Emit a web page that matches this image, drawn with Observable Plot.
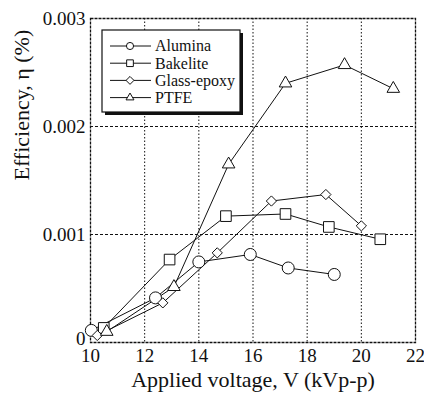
<!DOCTYPE html>
<html>
<head>
<meta charset="utf-8">
<script src="https://cdn.jsdelivr.net/npm/d3@7"></script>
<script src="https://cdn.jsdelivr.net/npm/@observablehq/plot@0.6"></script>
<style>
  html, body { margin: 0; padding: 0; background: #fff; }
  #chart { width: 424px; height: 401px; }
</style>
</head>
<body>
<div id="chart"></div>
<script>
// ---- data ----
const seriesNames = ["Alumina", "Bakelite", "Glass-epoxy", "PTFE"];
const seriesSymbols = ["circle", "square", "diamond2", "triangle2"];

const aluminaV   = [10.03, 12.4, 14.0, 15.9, 17.3, 19.0];
const aluminaEff = [0.000112, 0.000413, 0.000746, 0.000815, 0.00069, 0.00063];

const bakeliteV   = [10.49, 12.92, 15.0, 17.2, 18.8, 20.7];
const bakeliteEff = [0.000135, 0.000768, 0.00117, 0.00119, 0.00107, 0.000956];

const glassV   = [10.25, 12.67, 14.68, 16.68, 18.69, 20.0];
const glassEff = [0.000065, 0.000367, 0.00083, 0.00131, 0.00137, 0.00108];

const ptfeV   = [10.6, 13.08, 15.1, 17.2, 19.38, 21.18];
const ptfeEff = [0.0001, 0.000515, 0.00165, 0.0024, 0.00257, 0.00235];

const xTicks = [10, 12, 14, 16, 18, 20, 22];
const yTicks = [0, 0.001, 0.002, 0.003];
const xGrid = [12, 14, 16, 18, 20];
const yGrid = [0.001, 0.002];

const xLabel = "Applied voltage, V (kVp-p)";
const yLabel = "Efficiency, η (%)";

// ---- table ----
const raw = [[aluminaV, aluminaEff], [bakeliteV, bakeliteEff], [glassV, glassEff], [ptfeV, ptfeEff]];
const data = [];
raw.forEach(([vs, es], i) => vs.forEach((v, j) => data.push({series: seriesNames[i], v, eff: es[j]})));

const font = "Liberation Serif";
const radii = {"Alumina": 6, "Bakelite": 6, "Glass-epoxy": 4.6, "PTFE": 6};

const marks = [
  Plot.ruleX(xGrid, {stroke: "#111", strokeWidth: 1, strokeDasharray: "1.5,2"}),
  Plot.ruleY(yGrid, {stroke: "#111", strokeWidth: 1, strokeDasharray: "3,2"}),
  Plot.frame({stroke: "#111", strokeWidth: 1.3, strokeDasharray: "3,1"}),
  Plot.axisX({ticks: xTicks, tickSize: 0, tickPadding: 6, fontSize: 19, label: null, fontFamily: font}),
  Plot.axisY({ticks: yTicks.filter(d => d !== 0), tickSize: 0, tickPadding: 5, fontSize: 19, label: null, fontFamily: font,
              tickFormat: d => d3.format(".3f")(d)}),
  Plot.axisY({ticks: yTicks.filter(d => d === 0), tickSize: 0, tickPadding: 5, fontSize: 19, label: null, fontFamily: font,
              tickFormat: d => "0", dy: -4}),
  Plot.text([xLabel], {frameAnchor: "bottom", dy: 44, fontSize: 22, fontFamily: font, fill: "#111"}),
  Plot.text([yLabel], {frameAnchor: "left", dx: -69, rotate: -90, fontSize: 22, fontFamily: font, fill: "#111"}),
  Plot.line(data, {x: "v", y: "eff", z: "series", stroke: "#111", strokeWidth: 1})
];
seriesNames.forEach((s, i) => {
  marks.push(Plot.dot(data.filter(d => d.series === s), {
    x: "v", y: "eff", symbol: () => seriesSymbols[i], r: radii[s],
    fill: "white", stroke: "#111", strokeWidth: 1
  }));
});

const chart = Plot.plot({
  width: 424,
  height: 401,
  marginLeft: 90,
  marginRight: 9,
  marginTop: 18,
  marginBottom: 59,
  style: {background: "white", color: "#111", fontFamily: font},
  x: {domain: [10, 22]},
  y: {domain: [0, 0.003]},
  symbol: {domain: seriesSymbols, range: seriesSymbols},
  marks
});

document.getElementById("chart").appendChild(chart);

// ---- legend (inside plot) ----
const svg = d3.select(chart);
const lg = svg.append("g").attr("transform", "translate(102,30)");
lg.append("rect").attr("x", 3).attr("y", 3).attr("width", 138).attr("height", 82).attr("fill", "#111");
lg.append("rect").attr("x", 0).attr("y", 0).attr("width", 138).attr("height", 82)
  .attr("fill", "white").attr("stroke", "#111").attr("stroke-width", 1.2);
const symMap = {circle: d3.symbolCircle, square: d3.symbolSquare, diamond2: d3.symbolDiamond2, triangle2: d3.symbolTriangle2};
const lsize = {circle: 40, square: 45, diamond2: 40, triangle2: 45};
seriesNames.forEach((s, i) => {
  const yy = 16 + i * 17.2;
  lg.append("line").attr("x1", 8).attr("x2", 49).attr("y1", yy).attr("y2", yy).attr("stroke", "#111").attr("stroke-width", 1);
  lg.append("path").attr("transform", `translate(28,${yy})`)
    .attr("d", d3.symbol(symMap[seriesSymbols[i]], lsize[seriesSymbols[i]])())
    .attr("fill", "white").attr("stroke", "#111").attr("stroke-width", 1);
  lg.append("text").attr("x", 53).attr("y", yy).attr("dy", "0.34em").attr("text-anchor", "start")
    .style("font-family", font).attr("font-size", 16).attr("fill", "#111").text(s);
});
</script>
</body>
</html>
